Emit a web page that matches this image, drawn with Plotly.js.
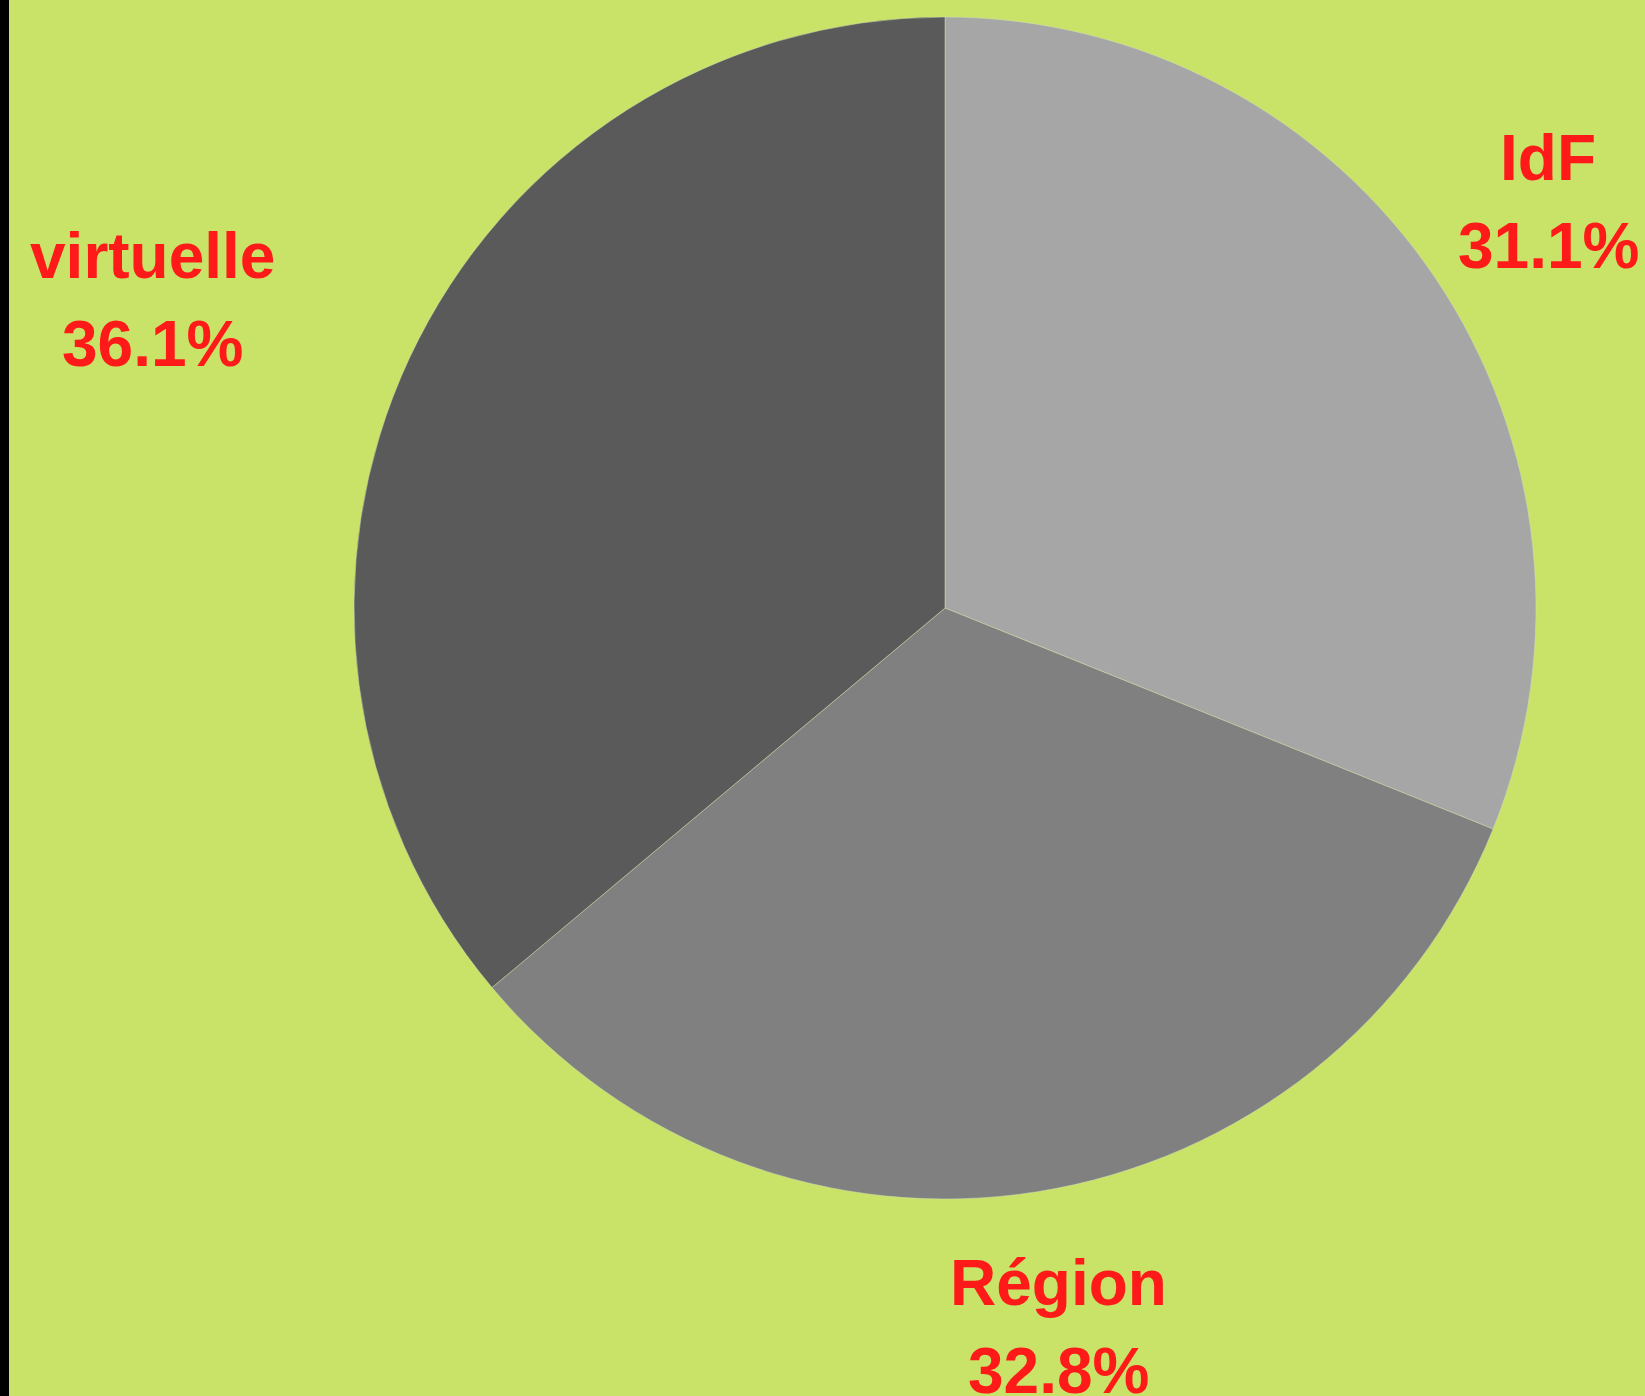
<!DOCTYPE html>
<html>
<head>
<meta charset="utf-8">
<script src="https://cdn.plot.ly/plotly-3.0.1.min.js"></script>
<style>html,body{margin:0;padding:0;background:#C9E268;overflow:hidden;}#chart{width:1645px;height:1396px;}</style>
</head>
<body>
<div id="chart"></div>
<script>
// Data
const categories = ['IdF', 'Région', 'virtuelle'];
const shares = [31.1, 32.8, 36.1];
const sliceColors = ['#A6A6A6', '#808080', '#5A5A5A'];

// Layout constants (pixels)
const W = 1645, H = 1396;
const pieCenter = [945, 608];
const pieRadius = 591;
const labelAnchors = [[1548, 202], [1058, 1327], [152, 300]];
const lineGap = 88;
const labelFont = {family: 'Liberation Sans, Arial, sans-serif', size: 64, color: '#FF1A1A', weight: 'bold'};

const trace = {
  type: 'pie',
  labels: categories,
  values: shares,
  sort: false,
  direction: 'clockwise',
  rotation: 0,
  textinfo: 'none',
  hoverinfo: 'skip',
  showlegend: false,
  marker: {colors: sliceColors, line: {color: 'rgba(210,225,180,0.5)', width: 1}},
  domain: {
    x: [(pieCenter[0] - pieRadius) / W, (pieCenter[0] + pieRadius) / W],
    y: [(H - pieCenter[1] - pieRadius) / H, (H - pieCenter[1] + pieRadius) / H]
  }
};

const annotations = [];
categories.forEach((c, i) => {
  const lines = [c, shares[i].toFixed(1) + '%'];
  lines.forEach((t, k) => {
    annotations.push({
      xref: 'paper', yref: 'paper',
      x: labelAnchors[i][0] / W,
      y: 1 - (labelAnchors[i][1] + (k === 0 ? -lineGap / 2 : lineGap / 2)) / H,
      xanchor: 'center', yanchor: 'middle',
      showarrow: false,
      text: t,
      font: labelFont
    });
  });
});

const layout = {
  width: W, height: H,
  margin: {l: 0, r: 0, t: 0, b: 0},
  paper_bgcolor: '#C9E268',
  plot_bgcolor: '#C9E268',
  showlegend: false,
  annotations: annotations,
  shapes: [{type: 'rect', xref: 'paper', yref: 'paper', x0: 0, x1: 9 / W, y0: 0, y1: 1,
            fillcolor: '#000000', line: {width: 0}}]
};

Plotly.newPlot('chart', [trace], layout, {displayModeBar: false, staticPlot: true});
</script>
</body>
</html>
